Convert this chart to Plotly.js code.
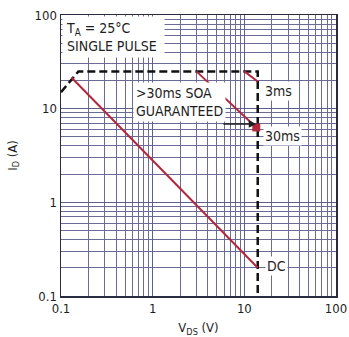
<!DOCTYPE html>
<html>
<head>
<meta charset="utf-8">
<script src="https://cdn.plot.ly/plotly-3.0.1.min.js"></script>
<style>html,body{margin:0;padding:0;background:#fff;}#chart{width:349px;height:337px;}</style>
</head>
<body>
<div id="chart"></div>
<script>
// ---- data ----
var soaX = [0.1, 0.155, 14, 14];
var soaY = [15, 25, 25, 0.1];
var dcX = [0.13, 14];
var dcY = [21.5, 0.2];
var ms30X = [3.0, 13.5];
var ms30Y = [25, 6.3];
var ms3X = [10, 14];
var ms3Y = [25, 19.5];
var decadeLabels = ['0.1', '1', '10', '100'];
var decadeVals = [0.1, 1, 10, 100];
var minorMultipliers = [2, 3, 4, 5, 6, 7, 8, 9];

var minorVals = [];
for (var d = 0; d < 3; d++) {
  for (var i = 0; i < minorMultipliers.length; i++) {
    minorVals.push(decadeVals[d] * minorMultipliers[i]);
  }
}

var FONT = 'DejaVu Sans Condensed, Liberation Sans Narrow, Arial Narrow, sans-serif';
var RED = '#b3263c';
var TXT = '#1e1e1e';

var traces = [
  {x: soaX, y: soaY, mode: 'lines', line: {color: '#111', width: 2.5, dash: '8px,4px'}},
  {x: dcX, y: dcY, mode: 'lines', line: {color: RED, width: 2}},
  {x: ms30X, y: ms30Y, mode: 'lines', line: {color: RED, width: 2}},
  {x: [ms30X[1]], y: [ms30Y[1]], mode: 'markers', marker: {symbol: 'square', size: 8, color: RED}},
  {x: ms3X, y: ms3Y, mode: 'lines', line: {color: RED, width: 2}}
];

var axisCommon = {
  type: 'log',
  tickmode: 'array',
  tickvals: decadeVals,
  ticktext: decadeLabels,
  ticks: '',
  showgrid: true,
  gridcolor: '#5f5f8c',
  gridwidth: 1,
  minor: {tickmode: 'array', tickvals: minorVals, showgrid: true, gridcolor: '#6b6b96', gridwidth: 1, ticks: ''},
  showline: true,
  linecolor: '#2a2a40',
  linewidth: 1.5,
  mirror: true,
  zeroline: false,
  tickfont: {family: FONT, size: 13, color: TXT}
};

var layout = {
  width: 349, height: 337,
  margin: {l: 61, r: 13, t: 15, b: 41},
  paper_bgcolor: '#fff', plot_bgcolor: '#fff',
  showlegend: false,
  font: {family: FONT, size: 13, color: TXT},
  xaxis: Object.assign({}, axisCommon, {
    range: [-1, 2],
    title: {text: 'V<sub>DS</sub> (V)', font: {family: FONT, size: 13, color: TXT}, standoff: 8}
  }),
  yaxis: Object.assign({}, axisCommon, {
    range: [-1, 2],
    title: {text: 'I<sub>D</sub> (A)', font: {family: FONT, size: 13, color: TXT}, standoff: 14}
  }),
  annotations: [
    {xref: 'paper', yref: 'paper', x: 0.004, y: 0.995, xanchor: 'left', yanchor: 'top', align: 'left',
     text: 'T<sub>A</sub> = 25°C<br>SINGLE PULSE&nbsp;', showarrow: false, bgcolor: '#fff', borderpad: 3,
     font: {family: FONT, size: 14, color: TXT}},
    {xref: 'paper', yref: 'paper', x: 0.262, y: 0.69, xanchor: 'left', yanchor: 'middle', align: 'left',
     text: '>30ms SOA<br>GUARANTEED', showarrow: false, bgcolor: '#fff', borderpad: 2,
     font: {family: FONT, size: 14, color: TXT}},
    {xref: 'paper', yref: 'paper', x: 0.71, y: 0.612, axref: 'paper', ayref: 'paper', ax: 0.585, ay: 0.612,
     text: '', showarrow: true, arrowhead: 2, arrowsize: 1, arrowwidth: 1.5, arrowcolor: TXT},
    {xref: 'paper', yref: 'paper', x: 0.735, y: 0.728, xanchor: 'left', yanchor: 'middle',
     text: '3ms', showarrow: false, bgcolor: '#fff', borderpad: 1, font: {family: FONT, size: 14, color: TXT}},
    {xref: 'paper', yref: 'paper', x: 0.735, y: 0.57, xanchor: 'left', yanchor: 'middle',
     text: '30ms', showarrow: false, bgcolor: '#fff', borderpad: 1, font: {family: FONT, size: 14, color: TXT}},
    {xref: 'paper', yref: 'paper', x: 0.74, y: 0.108, xanchor: 'left', yanchor: 'middle',
     text: 'DC', showarrow: false, bgcolor: '#fff', borderpad: 1, font: {family: FONT, size: 14, color: TXT}}
  ]
};

Plotly.newPlot('chart', traces, layout, {staticPlot: true, displayModeBar: false});
</script>
</body>
</html>
